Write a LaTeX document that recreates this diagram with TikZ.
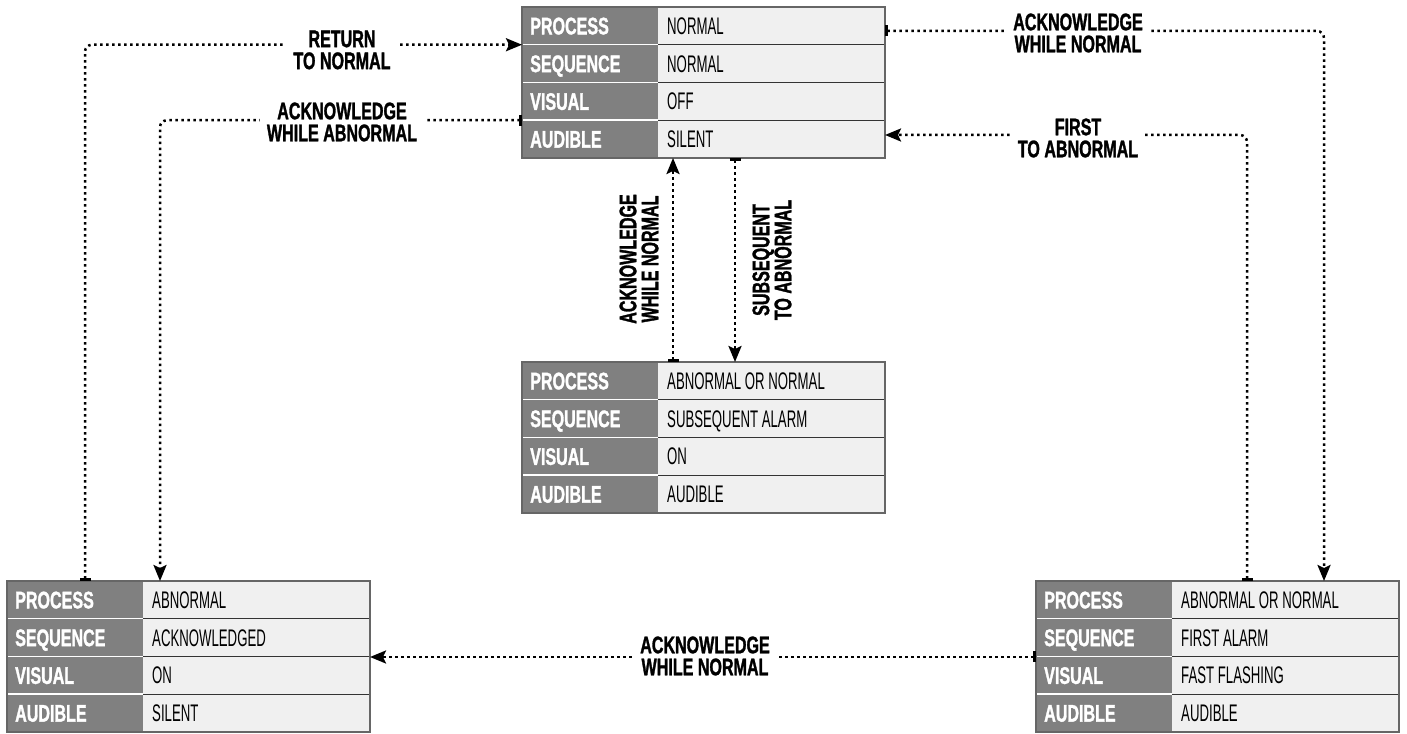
\documentclass[tikz,border=0pt]{standalone}
\usepackage{fontspec}
\usetikzlibrary{arrows.meta}
\newfontfamily\condfont[FakeStretch=0.67, BoldFeatures={FakeBold=1.3}]{Liberation Sans}
\newfontfamily\valfont[FakeStretch=0.55]{Liberation Sans}
\definecolor{lblgray}{HTML}{808080}
\definecolor{valgray}{HTML}{F0F0F0}
\definecolor{framegray}{HTML}{666666}
\definecolor{rowline}{HTML}{333333}
\tikzset{
 stateframe/.style={minimum width=363pt, minimum height=151pt, inner sep=0pt, outer sep=0pt},
 keytext/.style={anchor=west, inner sep=0pt, text=white, font=\condfont\bfseries\fontsize{24}{22}\selectfont, text height=17pt, text depth=0pt},
 valtext/.style={anchor=west, inner sep=0pt, text=black, font=\valfont\fontsize{24}{22}\selectfont, text height=17pt, text depth=0pt},
 conn/.style={line width=2.5pt, dash pattern=on 2.5pt off 3.5pt, {Bar[width=11pt,line width=3pt]}-{Stealth[length=16pt,width=13pt,inset=3pt]}, rounded corners=7pt},
 trlabel/.style={fill=white, inner xsep=7pt, inner ysep=2pt, align=center, font=\condfont\bfseries\fontsize{24}{22}\selectfont},
}
\newcommand\statebox[7]{%
 \node[stateframe] (#1) at (#2,#3) {};
 \fill[lblgray] (#1.north west) rectangle ([xshift=136pt]#1.south west);
 \fill[valgray] ([xshift=136pt]#1.north west) rectangle (#1.south east);
 \foreach \k in {1,2,3} {
   \draw[white, line width=1.5pt] ([yshift=-37.75pt*\k]#1.north west) -- ++(136,0);
   \draw[rowline, line width=1.2pt] ([xshift=136pt,yshift=-37.75pt*\k]#1.north west) -- ([yshift=-37.75pt*\k]#1.north east);
 }
 \node[keytext] (#1k1) at ([xshift=8pt,yshift=-18.875pt]#1.north west) {PROCESS};
 \node[keytext] (#1k2) at ([xshift=8pt,yshift=-56.625pt]#1.north west) {SEQUENCE};
 \node[keytext] (#1k3) at ([xshift=8pt,yshift=-94.375pt]#1.north west) {VISUAL};
 \node[keytext] (#1k4) at ([xshift=8pt,yshift=-132.125pt]#1.north west) {AUDIBLE};
 \node[valtext] (#1v1) at ([xshift=145pt,yshift=-18.875pt]#1.north west) {#4};
 \node[valtext] (#1v2) at ([xshift=145pt,yshift=-56.625pt]#1.north west) {#5};
 \node[valtext] (#1v3) at ([xshift=145pt,yshift=-94.375pt]#1.north west) {#6};
 \node[valtext] (#1v4) at ([xshift=145pt,yshift=-132.125pt]#1.north west) {#7};
 \draw[framegray, line width=1.8pt] (#1.north west) rectangle (#1.south east);
}
\begin{document}
\begin{tikzpicture}[x=1pt,y=1pt]
\useasboundingbox (0,0) rectangle (1407,733);
\statebox{T}{703.5}{650.5}{NORMAL}{NORMAL}{OFF}{SILENT}
\statebox{M}{703.5}{295.5}{ABNORMAL OR NORMAL}{SUBSEQUENT ALARM}{ON}{AUDIBLE}
\statebox{L}{188.5}{76.5}{ABNORMAL}{ACKNOWLEDGED}{ON}{SILENT}
\statebox{R}{1217.5}{76.5}{ABNORMAL OR NORMAL}{FIRST ALARM}{FAST FLASHING}{AUDIBLE}

% connectors
\draw[conn] ([xshift=78pt]L.north west) |- ([yshift=-37.75pt]T.north west);
\draw[conn] ([yshift=-113.25pt]T.north west) -| ([xshift=153pt]L.north west);
\draw[conn] ([yshift=-24pt]T.north east) -| ([xshift=288pt]R.north west);
\draw[conn] ([xshift=211pt]R.north west) |- ([yshift=-128pt]T.north east);
\draw[conn] ([xshift=151pt]M.north west) -- ([xshift=151pt]T.south west);
\draw[conn] ([xshift=213pt]T.south west) -- ([xshift=213pt]M.north west);
\draw[conn] ([yshift=-76pt]R.north west) -- ([yshift=-76pt]L.north east);

% labels
\node[trlabel] (lret) at (342,683) {RETURN\\TO NORMAL};
\node[trlabel] (lackab) at (342,611) {ACKNOWLEDGE\\WHILE ABNORMAL};
\node[trlabel] (lacktr) at (1078,700) {ACKNOWLEDGE\\WHILE NORMAL};
\node[trlabel] (lfirst) at (1078,595) {FIRST\\TO ABNORMAL};
\node[trlabel, rotate=90, inner xsep=2pt] (lackv) at (639,474) {ACKNOWLEDGE\\WHILE NORMAL};
\node[trlabel, rotate=90, inner xsep=2pt] (lsub) at (772,473) {SUBSEQUENT\\TO ABNORMAL};
\node[trlabel] (lackb) at (705,77) {ACKNOWLEDGE\\WHILE NORMAL};
\end{tikzpicture}
\end{document}
